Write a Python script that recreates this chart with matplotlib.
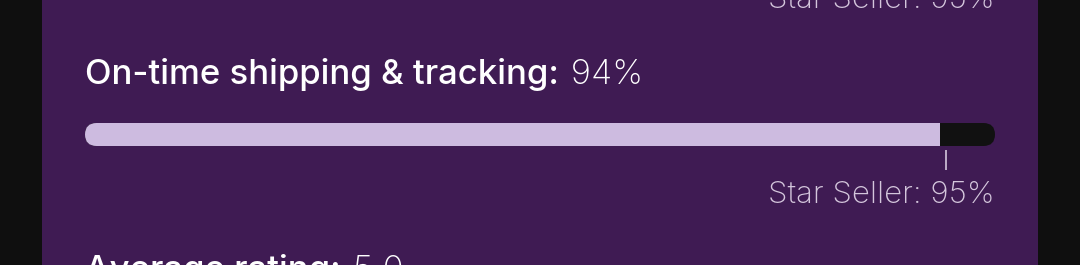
import matplotlib
matplotlib.use("Agg")
import matplotlib.pyplot as plt
from matplotlib.patches import Rectangle, FancyBboxPatch

# data
metric_name = "On-time shipping & tracking"
metric_value = 94
target_value = 95
target_label = "Star Seller"
next_metric = "Average rating"
next_value = "5.0"

W, H = 1080, 265
bg = "#0f0f0f"
panel = "#3f1b53"
lav = "#cdbbe0"
track = "#111111"
sub = "#d4c6dc"

plt.rcParams["font.family"] = ["Inter", "DejaVu Sans"]

fig = plt.figure(figsize=(W / 100, H / 100), dpi=100, facecolor=bg)
fig.patches.append(Rectangle((42 / W, 0), (1038 - 42) / W, 1, transform=fig.transFigure,
                             facecolor=panel, edgecolor="none", zorder=-5))

def fx(px):
    return px / W

def fy(py):
    return 1 - py / H

# text
fs = 25
fs2 = 22.5
t1 = fig.text(fx(85), fy(84), metric_name + ":", color="white", fontsize=fs,
              fontweight="medium", va="baseline", ha="left")
fig.canvas.draw()
bb = t1.get_window_extent()
fig.text(bb.x1 / W + 0.002, fy(84), f" {metric_value}%", color="white", fontsize=fs,
         fontweight="light", va="baseline", ha="left")

fig.text(fx(995), fy(8), f"{target_label}: {target_value}%", color=sub, fontsize=fs2,
         fontweight="light", va="baseline", ha="right")
fig.text(fx(995), fy(203), f"{target_label}: {target_value}%", color=sub, fontsize=fs2,
         fontweight="light", va="baseline", ha="right")

t3 = fig.text(fx(85), fy(280), next_metric + ":", color="white", fontsize=fs,
              fontweight="medium", va="baseline", ha="left")
fig.canvas.draw()
bb3 = t3.get_window_extent()
fig.text(bb3.x1 / W + 0.002, fy(280), f" {next_value}", color="white", fontsize=fs,
         fontweight="light", va="baseline", ha="left")

# progress bar
bx0, bx1, by0, by1 = 85, 995, 123, 146
ax = fig.add_axes([fx(bx0), fy(by1), (bx1 - bx0) / W, (by1 - by0) / H])
ax.set_xlim(0, 100)
ax.set_ylim(0, 1)
ax.axis("off")
aspect = (1 / (by1 - by0)) / (100 / (bx1 - bx0))
r = ((by1 - by0) / 2) * 100 / (bx1 - bx0)
trk = FancyBboxPatch((0, 0), 100, 1, boxstyle=f"round,pad=0,rounding_size={r}",
                     mutation_aspect=aspect, facecolor=track, edgecolor="none")
ax.add_patch(trk)
bars = ax.barh([0.5], [metric_value], height=1, left=0, color=lav, edgecolor="none")
for b in bars:
    b.set_clip_path(trk)
ax.plot([target_value - 0.35, target_value - 0.35], [-0.17, -1.05], color=sub, lw=1.2,
        clip_on=False, solid_capstyle="butt")

fig.savefig("out.png", dpi=100, facecolor=bg)
